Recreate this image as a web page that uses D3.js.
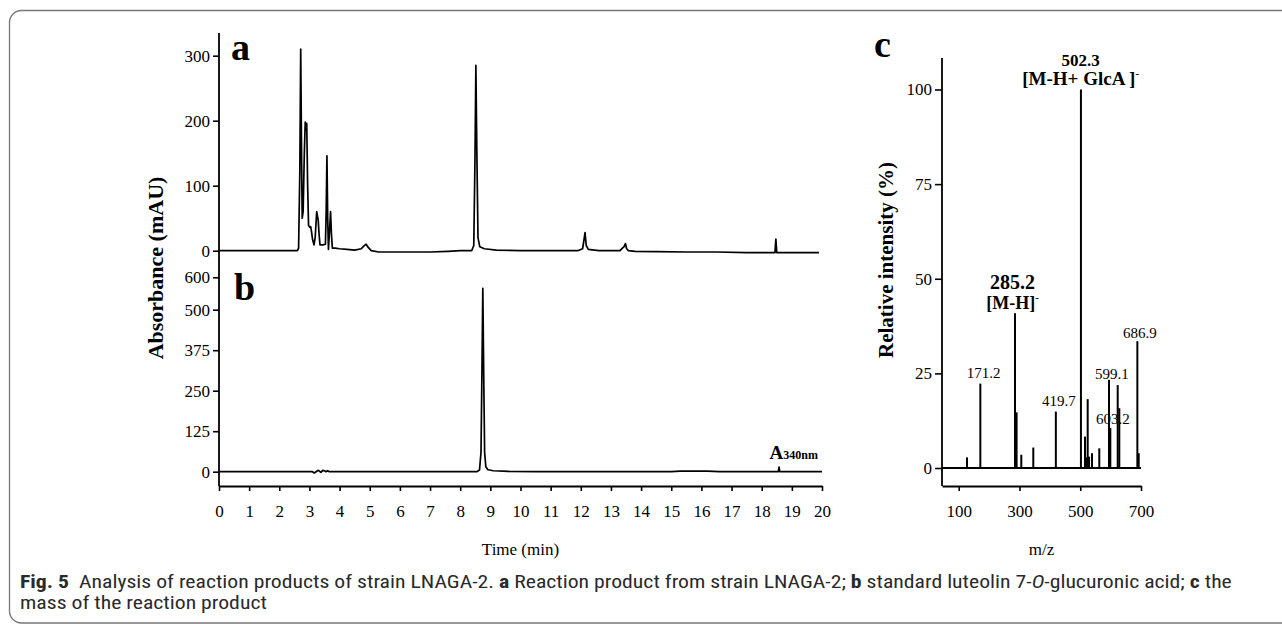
<!DOCTYPE html>
<html><head><meta charset="utf-8">
<script src="https://cdn.jsdelivr.net/npm/d3@7"></script>
<style>
html,body{margin:0;padding:0;background:#fff;}
svg{display:block;}
</style></head><body>
<svg id="chart" width="1282" height="624"></svg>
<script>
// ---------- data ----------
const minuteTicks = [0,1,2,3,4,5,6,7,8,9,10,11,12,13,14,15,16,17,18,19,20];
const absTicksA = [0,100,200,300];
const absTicksB = [0,125,250,375,500,600];
const relTicks = [0,25,50,75,100];
const mzTicks = [100,300,500,700];

// panel a: [time (min), absorbance (mAU)]
const traceA = [
  [0,0],[2.60,0],[2.64,4],[2.68,120],[2.71,310],[2.74,140],[2.76,50],[2.79,60],[2.83,150],
  [2.86,198],[2.885,185],[2.91,196],[2.94,100],[2.97,39],[3.01,36],[3.04,37],[3.07,29],
  [3.10,18],[3.15,9],[3.19,20],[3.24,60],[3.27,52],[3.29,47],[3.32,25],[3.35,9],[3.45,9],
  [3.53,10],[3.555,60],[3.58,146],[3.605,50],[3.63,2],[3.665,30],[3.70,60],[3.73,25],
  [3.76,4],[3.85,4],[4.0,3],[4.24,2],[4.5,1],[4.72,3],[4.8,7],[4.88,10],[4.95,5],[5.05,0],
  [5.3,-2],[6.0,-2],[7.0,-2],[7.6,-1],[8.0,0],[8.38,0],[8.45,8],[8.49,140],[8.52,285],
  [8.55,160],[8.59,20],[8.65,6],[8.8,3],[9.2,1],[10.0,0],[11.0,0],[11.9,0],[12.06,3],
  [12.11,18],[12.14,28],[12.18,8],[12.25,2],[12.6,0],[13.0,0],[13.3,0],[13.38,4],[13.43,6],
  [13.48,11],[13.52,3],[13.58,0],[13.8,-1],[14.5,-1.5],[15.5,-2],[16.5,-2],[17.5,-3],
  [18.44,-3],[18.47,18],[18.50,-3],[19.9,-3]
];
// panel b: [time (min), absorbance (mAU)]
const traceB = [
  [0,0],[3.10,0],[3.16,-4],[3.22,0],[3.28,4],[3.33,2],[3.38,-2],[3.44,4],[3.50,3],[3.55,0],
  [3.60,3],[3.66,0],[8.55,0],[8.64,5],[8.69,60],[8.72,300],[8.75,566],[8.78,300],[8.81,60],
  [8.85,15],[8.92,6],[9.1,3],[9.6,1],[10.5,0],[15.0,0],[15.3,2],[16.2,2],[16.6,0],
  [18.55,0],[18.575,14],[18.60,0],[20,0]
];
// panel c: mass spectrum
const mzValues  = [127.3,171.2,285.2,288,290.5,306,345.5,419.7,502.3,515.7,521,524.5,529,538.7,562.7,594.7,599,623.3,628.6,688,692.4];
const relValues = [2.8,22.3,40.9,5,14.7,3.5,5.4,14.9,100,8.3,2.8,18.2,3,3.9,5.2,23.3,10.6,21.9,15.8,33.5,3.9];
// peak annotations: text, anchor m/z, anchor level (%)
const smallLabelText = ["171.2","419.7","599.1","603.2","686.9"];
const smallLabelMz   = [182.3,430,604.5,607.8,696.7];
const smallLabelRel  = [23.8,16.4,23.5,11.6,34.3];

// ---------- layout ----------
const svg = d3.select("#chart");
const serif = '"Liberation Serif","Times New Roman",serif';
const xT = d3.scaleLinear().domain([0,20]).range([219,822]);
const yA = d3.scaleLinear().domain([0,300]).range([250.7,55.7]);
const yB = d3.scaleLinear().domain([0,600]).range([471.7,277.3]);
const xM = d3.scaleLinear().domain([45,700]).range([942,1141]);
const yM = d3.scaleLinear().domain([0,100]).range([468,89.5]);
const axisY = 486;

// frame
svg.append("rect").attr("x",9.5).attr("y",10.5).attr("width",1320).attr("height",612.5)
  .attr("rx",12).attr("fill","none").attr("stroke","#777").attr("stroke-width",1.3);

function styleAxis(g, fs){
  g.attr("font-family", serif).attr("font-size", fs);
  g.selectAll("line").attr("stroke","#000").attr("stroke-width",1.6);
  g.selectAll("path.domain").attr("stroke","#000").attr("stroke-width",1.8);
  g.selectAll("text").attr("fill","#000");
}

// left axes (a,b)
svg.append("line").attr("x1",xT(0)).attr("x2",xT(0)).attr("y1",33).attr("y2",axisY)
  .attr("stroke","#000").attr("stroke-width",1.8);
const gA = svg.append("g").attr("transform",`translate(${xT(0)},0)`)
  .call(d3.axisLeft(yA).tickValues(absTicksA).tickSize(6).tickPadding(3));
gA.select(".domain").remove(); styleAxis(gA,17);
const gB = svg.append("g").attr("transform",`translate(${xT(0)},0)`)
  .call(d3.axisLeft(yB).tickValues(absTicksB).tickSize(6).tickPadding(3));
gB.select(".domain").remove(); styleAxis(gB,17);
const gX = svg.append("g").attr("transform",`translate(0,${axisY})`)
  .call(d3.axisBottom(xT).tickValues(minuteTicks).tickSize(5).tickPadding(14).tickSizeOuter(0));
styleAxis(gX,17);

// traces
const lineA = d3.line().x(d=>xT(d[0])).y(d=>yA(d[1]));
const lineB = d3.line().x(d=>xT(d[0])).y(d=>yB(d[1]));
svg.append("path").attr("d",lineA(traceA)).attr("fill","none").attr("stroke","#000")
  .attr("stroke-width",1.7).attr("stroke-linejoin","round");
svg.append("path").attr("d",lineB(traceB)).attr("fill","none").attr("stroke","#000")
  .attr("stroke-width",1.7).attr("stroke-linejoin","round");

// panel letters
svg.append("text").attr("x",231).attr("y",60).attr("font-family",serif).attr("font-weight","bold")
  .attr("font-size",38).text("a");
svg.append("text").attr("x",234).attr("y",300).attr("font-family",serif).attr("font-weight","bold")
  .attr("font-size",38).text("b");
svg.append("text").attr("x",874).attr("y",57).attr("font-family",serif).attr("font-weight","bold")
  .attr("font-size",38).text("c");

// A340nm
const tA = svg.append("text").attr("x",818).attr("y",459).attr("text-anchor","end")
  .attr("font-family",serif).attr("font-weight","bold");
tA.append("tspan").attr("font-size",19).text("A");
tA.append("tspan").attr("font-size",12).text("340nm");

// axis titles
svg.append("text").attr("transform","translate(163,268) rotate(-90)").attr("text-anchor","middle")
  .attr("font-family",serif).attr("font-weight","bold").attr("font-size",22).text("Absorbance (mAU)");
svg.append("text").attr("x",xT(10)).attr("y",555).attr("text-anchor","middle")
  .attr("font-family",serif).attr("font-size",17).text("Time (min)");

// ---------- panel c ----------
svg.append("line").attr("x1",xM(45)).attr("x2",xM(45)).attr("y1",58).attr("y2",axisY)
  .attr("stroke","#000").attr("stroke-width",1.8);
const gC = svg.append("g").attr("transform",`translate(${xM(45)},0)`)
  .call(d3.axisLeft(yM).tickValues(relTicks).tickSize(7).tickPadding(3));
gC.select(".domain").remove(); styleAxis(gC,17);
const gXC = svg.append("g").attr("transform",`translate(0,${axisY})`)
  .call(d3.axisBottom(xM).tickValues(mzTicks).tickSize(5).tickPadding(14).tickSizeOuter(0));
styleAxis(gXC,17);
// zero line
svg.append("line").attr("x1",xM(45)).attr("x2",xM(700)).attr("y1",yM(0)).attr("y2",yM(0))
  .attr("stroke","#000").attr("stroke-width",1.8);
// bars
svg.append("g").selectAll("line").data(mzValues.map((m,i)=>[m,relValues[i]])).join("line")
  .attr("x1",d=>xM(d[0])).attr("x2",d=>xM(d[0])).attr("y1",yM(0)).attr("y2",d=>yM(d[1]))
  .attr("stroke","#000").attr("stroke-width",2);
// small labels
svg.append("g").selectAll("text").data(smallLabelText).join("text")
  .attr("x",(d,i)=>xM(smallLabelMz[i])).attr("y",(d,i)=>yM(smallLabelRel[i]))
  .attr("text-anchor","middle").attr("font-family",serif).attr("font-size",15).text(d=>d);
// main annotations
svg.append("text").attr("x",xM(277)).attr("y",yM(47.2)).attr("text-anchor","middle")
  .attr("font-family",serif).attr("font-weight","bold").attr("font-size",20).text("285.2");
const mh = svg.append("text").attr("x",xM(277)).attr("y",yM(42)).attr("text-anchor","middle")
  .attr("font-family",serif).attr("font-weight","bold").attr("font-size",18);
mh.append("tspan").text("[M-H]");
mh.append("tspan").attr("font-size",11).attr("dy",-8).text("-");
svg.append("text").attr("x",xM(501.5)).attr("y",yM(106.3)).attr("text-anchor","middle")
  .attr("font-family",serif).attr("font-weight","bold").attr("font-size",17).text("502.3");
const gl = svg.append("text").attr("x",xM(501.5)).attr("y",yM(101.2)).attr("text-anchor","middle")
  .attr("font-family",serif).attr("font-weight","bold").attr("font-size",19)
  .attr("style","white-space:pre");
gl.append("tspan").text("[M-H+ GlcA ]");
gl.append("tspan").attr("font-size",11).attr("dy",-8).text("-");

svg.append("text").attr("transform","translate(893,260) rotate(-90)").attr("text-anchor","middle")
  .attr("font-family",serif).attr("font-weight","bold").attr("font-size",21).text("Relative intensity (%)");
svg.append("text").attr("x",(xM(45)+xM(700))/2).attr("y",555).attr("text-anchor","middle")
  .attr("font-family",serif).attr("font-size",17).text("m/z");

// ---------- caption ----------
const capFont = '"Liberation Sans Narrow","Roboto Condensed","Noto Sans","Open Sans",sans-serif';
const capG = svg.append("g");
const c1 = capG.append("text").attr("x",0).attr("y",588).attr("font-family",capFont)
  .attr("font-size",18).attr("fill","#2a2a2a").attr("style","white-space:pre");
c1.append("tspan").attr("font-weight","bold").text("Fig. 5");
c1.append("tspan").text("  Analysis of reaction products of strain LNAGA-2. ");
c1.append("tspan").attr("font-weight","bold").text("a");
c1.append("tspan").text(" Reaction product from strain LNAGA-2; ");
c1.append("tspan").attr("font-weight","bold").text("b");
c1.append("tspan").text(" standard luteolin 7-");
c1.append("tspan").attr("font-style","italic").text("O");
c1.append("tspan").text("-glucuronic acid; ");
c1.append("tspan").attr("font-weight","bold").text("c");
c1.append("tspan").text(" the");
capG.append("text").attr("x",0).attr("y",609).attr("font-family",capFont)
  .attr("font-size",18).attr("fill","#2a2a2a").text("mass of the reaction product");
const w1 = c1.node().getComputedTextLength();
const k = (1232-20)/w1;
capG.attr("transform",`translate(20,0) scale(${k},1)`);
</script>
</body></html>
